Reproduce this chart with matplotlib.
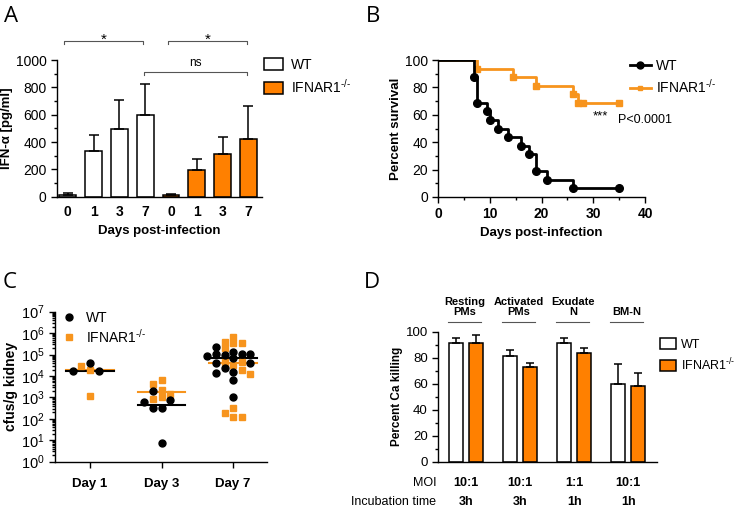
import matplotlib.pyplot as plt
import numpy as np
from matplotlib.lines import Line2D
from matplotlib.patches import Patch
from matplotlib.ticker import LogLocator, MultipleLocator, NullFormatter

plt.rcParams["font.family"] = ["Liberation Sans", "DejaVu Sans"]
plt.rcParams["mathtext.fontset"] = "custom"
plt.rcParams["mathtext.rm"] = "Liberation Sans"
plt.rcParams["mathtext.it"] = "Liberation Sans:italic"
plt.rcParams["mathtext.bf"] = "Liberation Sans:bold"
plt.rcParams["axes.linewidth"] = 1.0
plt.rcParams["xtick.direction"] = "out"
plt.rcParams["ytick.direction"] = "out"

ORANGE = "#ff8000"
ORANGE_LINE = "#f7941d"
KO = r"IFNAR1$^{\text{-/-}}$"

# ---- panel A: IFN-alpha
days_a = ["0", "1", "3", "7"]
wt_ifn = [15, 335, 495, 600]
wt_ifn_sd = [10, 115, 210, 225]
ko_ifn = [10, 198, 310, 425]
ko_ifn_sd = [10, 77, 125, 240]

# ---- panel B: survival (Kaplan-Meier)
wt_days = [0, 7, 7.5, 9.5, 10, 11.5, 13.5, 16, 17.5, 19, 21, 26, 35]
wt_surv = [100, 87.5, 68.75, 62.5, 56.25, 50, 43.75, 37.5, 31.25, 18.75, 12.5, 6.25, 6.25]
ko_days = [0, 7.5, 14.5, 19, 26, 27, 28, 35]
ko_surv = [100, 93.75, 87.5, 81.25, 75, 68.75, 68.75, 68.75]

# ---- panel C: kidney fungal burden
days_c = ["Day 1", "Day 3", "Day 7"]
wt_cfu = [
    [1.7e4, 1.7e4, 3.9e4],
    [2.1e3, 720, 610, 307, 307, 7.2],
    [2.2e5, 1.35e5, 1.1e5, 1.1e5, 1.1e5, 1.0e5, 8.5e4, 6.6e4,
     3.9e4, 3.9e4, 2.3e4, 1.6e4, 1.4e4, 6.5e3, 1.07e3],
]
ko_cfu = [
    [2.9e4, 2.0e4, 1.2e3],
    [6.2e3, 4.3e3, 2.2e3, 1.45e3, 1.1e3, 840],
    [6.8e5, 4.0e5, 3.3e5, 3.3e5, 2.0e5, 4.7e4, 4.7e4, 3.2e4,
     2.0e4, 1.3e4, 310, 180, 126, 126],
]

# ---- panel D: killing
cell_types = ["Resting\nPMs", "Activated\nPMs", "Exudate\nN", "BM-N"]
moi = ["10:1", "10:1", "1:1", "10:1"]
inc_time = ["3h", "3h", "1h", "1h"]
wt_kill = [91.5, 81.5, 91.5, 59.5]
wt_kill_err = [3.4, 4.4, 3.9, 15.4]
ko_kill = [91.5, 73, 83.3, 58.2]
ko_kill_err = [5.9, 3.0, 4.4, 10.3]

W, H = 736, 512
fig = plt.figure(figsize=(W / 100, H / 100), dpi=100)


def px_axes(x0, y0, x1, y1):
    return fig.add_axes([x0 / W, 1 - y1 / H, (x1 - x0) / W, (y1 - y0) / H])


def style(ax):
    ax.spines["top"].set_visible(False)
    ax.spines["right"].set_visible(False)
    ax.tick_params(which="major", length=4, width=1.0, labelsize=10)
    ax.tick_params(which="minor", length=2.5, width=1.0)


def bracket(ax, x0, x1, y, text, ty, size):
    d = 25
    ax.plot([x0, x0, x1, x1], [y - d, y, y, y - d], color="#555555", lw=0.8,
            clip_on=False)
    ax.text((x0 + x1) / 2, ty, text, ha="center", va="center", fontsize=size)


# ================= A
ax = px_axes(57, 60, 262, 196.7)
style(ax)
xa = np.arange(8)
ax.bar(xa, wt_ifn + ko_ifn, width=0.65, color=["white"] * 4 + [ORANGE] * 4,
       edgecolor="black", linewidth=1.1,
       yerr=[np.zeros(8), wt_ifn_sd + ko_ifn_sd],
       error_kw=dict(ecolor="black", elinewidth=1.1, capsize=3.6, capthick=1.1))
ax.set_xlim(-0.415, 7.53)
ax.set_ylim(0, 1000)
ax.yaxis.set_major_locator(MultipleLocator(200))
ax.yaxis.set_minor_locator(MultipleLocator(100))
ax.set_xticks(xa)
ax.set_xticklabels(days_a * 2, fontweight="bold")
ax.tick_params(axis="x", length=0, pad=6)
ax.set_xlabel("Days post-infection", fontweight="bold", fontsize=9.5, labelpad=4)
ax.set_ylabel("IFN-α [pg/ml]", fontweight="bold", fontsize=9.5, labelpad=2)
bracket(ax, -0.13, 2.93, 1141, "*", 1150, 11)
bracket(ax, 3.9, 6.94, 1141, "*", 1150, 11)
bracket(ax, 2.96, 6.94, 914, "ns", 975, 8.5)
ax.legend(handles=[Patch(facecolor="white", edgecolor="black", lw=1.1, label="WT"),
                   Patch(facecolor=ORANGE, edgecolor="black", lw=1.1, label=KO)],
          loc="upper left", bbox_to_anchor=(0.985, 1.055), frameon=False,
          fontsize=10, handlelength=1.3, handleheight=0.95, handletextpad=0.6,
          labelspacing=0.45, borderaxespad=0)

# ================= B
ax = px_axes(438.3, 60, 645, 197)
style(ax)
ax.step(wt_days, wt_surv, where="post", color="black", lw=2, zorder=3)
ax.plot(wt_days[1:], wt_surv[1:], "o", color="black", ms=5.5, zorder=4)
ax.step(ko_days, ko_surv, where="post", color=ORANGE_LINE, lw=2, zorder=2)
ax.plot(ko_days[1:], ko_surv[1:], "s", color=ORANGE_LINE, ms=4, zorder=2)
ax.set_xlim(0, 40)
ax.set_ylim(0, 100)
ax.xaxis.set_major_locator(MultipleLocator(10))
ax.xaxis.set_minor_locator(MultipleLocator(5))
ax.yaxis.set_major_locator(MultipleLocator(20))
ax.yaxis.set_minor_locator(MultipleLocator(10))
for t in ax.get_xticklabels():
    t.set_fontweight("bold")
ax.set_xlabel("Days post-infection", fontweight="bold", fontsize=9.5, labelpad=4)
ax.set_ylabel("Percent survival", fontweight="bold", fontsize=9.5, labelpad=2)
ax.text(29.8, 58.5, "***", ha="left", va="center", fontsize=9.5)
ax.text(34.8, 56.5, "P<0.0001", ha="left", va="center", fontsize=9)
ax.legend(handles=[Line2D([], [], color="black", lw=2, marker="o", ms=5, label="WT"),
                   Line2D([], [], color=ORANGE_LINE, lw=2, marker="s", ms=3.5, label=KO)],
          loc="upper left", bbox_to_anchor=(0.9, 1.05), frameon=False,
          fontsize=10, handlelength=1.5, handletextpad=0.4,
          labelspacing=0.35, borderaxespad=0)

# ================= C
ax = px_axes(55, 311.7, 266.7, 461.7)
style(ax)
ax.set_yscale("log")
ax.set_ylim(1, 1e7)
ax.set_xlim(0.51, 3.47)
ax.yaxis.set_minor_locator(LogLocator(base=10, subs=np.arange(2, 10), numticks=20))
ax.yaxis.set_minor_formatter(NullFormatter())
ax.set_yticks(10.0 ** np.arange(8))
ax.set_yticklabels([f"$10^{{{k}}}$" for k in range(8)], fontsize=10.5)
ax.set_xticks([1, 2, 3])
ax.set_xticklabels(days_c, fontweight="bold", fontsize=9.5)
ax.tick_params(axis="x", pad=8)
ax.set_ylabel("cfus/g kidney", fontweight="bold", fontsize=10, labelpad=2)

slot = 0.12
order = [0, -1, 1, -2, 2, -3, 3, -4, 4]
for i, (wv, kv) in enumerate(zip(wt_cfu, ko_cfu)):
    pos = i + 1
    vals = [(np.log10(v), 0) for v in wv] + [(np.log10(v), 1) for v in kv]
    vals.sort(key=lambda t: -t[0])
    placed = []
    xs = {0: [], 1: []}
    ys = {0: [], 1: []}
    for lv, g in vals:
        for s in order:
            if all(not (ps == s and abs(pl - lv) < 0.28) for pl, ps in placed):
                break
        placed.append((lv, s))
        xs[g].append(pos + s * slot)
        ys[g].append(10 ** lv)
    ax.plot([pos - 0.33, pos + 0.33], [np.median(kv)] * 2, color=ORANGE_LINE, lw=1.5, zorder=2)
    ax.plot([pos - 0.33, pos + 0.33], [np.median(wv)] * 2, color="black", lw=1.5, zorder=3)
    ax.plot(xs[1], ys[1], "s", color=ORANGE_LINE, ms=4, ls="none", zorder=4)
    ax.plot(xs[0], ys[0], "o", color="black", ms=5, ls="none", zorder=5)
ax.legend(handles=[Line2D([], [], color="black", marker="o", ms=5, ls="none", label="WT"),
                   Line2D([], [], color=ORANGE_LINE, marker="s", ms=4, ls="none", label=KO)],
          loc="upper left", bbox_to_anchor=(0.0, 1.04), frameon=False,
          fontsize=10, handlelength=1.2, handletextpad=0.6,
          labelspacing=0.15, borderaxespad=0)

# ================= D
ax = px_axes(438.3, 331.7, 656.7, 461.7)
style(ax)
ax.tick_params(labelsize=9.5)
g = np.arange(4)
off = 0.185
bw = 0.255
ax.bar(g - off, wt_kill, width=bw, color="white", edgecolor="black", lw=1.1,
       yerr=[np.zeros(4), wt_kill_err],
       error_kw=dict(ecolor="black", elinewidth=1.1, capsize=3.2, capthick=1.1))
ax.bar(g + off, ko_kill, width=bw, color=ORANGE, edgecolor="black", lw=1.1,
       yerr=[np.zeros(4), ko_kill_err],
       error_kw=dict(ecolor="black", elinewidth=1.1, capsize=3.2, capthick=1.1))
ax.set_xlim(-0.513, 3.526)
ax.set_ylim(0, 100)
ax.yaxis.set_major_locator(MultipleLocator(20))
ax.yaxis.set_minor_locator(MultipleLocator(10))
ax.set_xticks([])
ax.set_ylabel("Percent Ca killing", fontweight="bold", fontsize=8.5, labelpad=2)
for gi, (ct, m, t) in enumerate(zip(cell_types, moi, inc_time)):
    ax.plot([gi - 0.33, gi + 0.28], [107.7, 107.7], color="#555555", lw=0.8,
            clip_on=False)
    ax.text(gi - 0.02, 111, ct, ha="center", va="bottom", fontsize=8,
            fontweight="bold", linespacing=1.1)
    ax.text(gi, -16.4, m, ha="center", va="center", fontsize=9, fontweight="bold")
    ax.text(gi, -31, t, ha="center", va="center", fontsize=9, fontweight="bold")
ax.text(-0.55, -16.4, "MOI", ha="right", va="center", fontsize=9)
ax.text(-0.55, -31, "Incubation time", ha="right", va="center", fontsize=9)
ax.legend(handles=[Patch(facecolor="white", edgecolor="black", lw=1.1, label="WT"),
                   Patch(facecolor=ORANGE, edgecolor="black", lw=1.1, label=KO)],
          loc="upper left", bbox_to_anchor=(0.99, 0.99), frameon=False,
          fontsize=9, handlelength=1.3, handleheight=0.95, handletextpad=0.4,
          labelspacing=0.45, borderaxespad=0)

# panel letters
for lab, x, y in [("A", 4, 6), ("B", 366, 6), ("C", 3, 272), ("D", 364, 272)]:
    fig.text(x / W, 1 - y / H, lab, ha="left", va="top", fontsize=16,
             family=["Open Sans", "DejaVu Sans"])

fig.savefig("out.png", dpi=100)
